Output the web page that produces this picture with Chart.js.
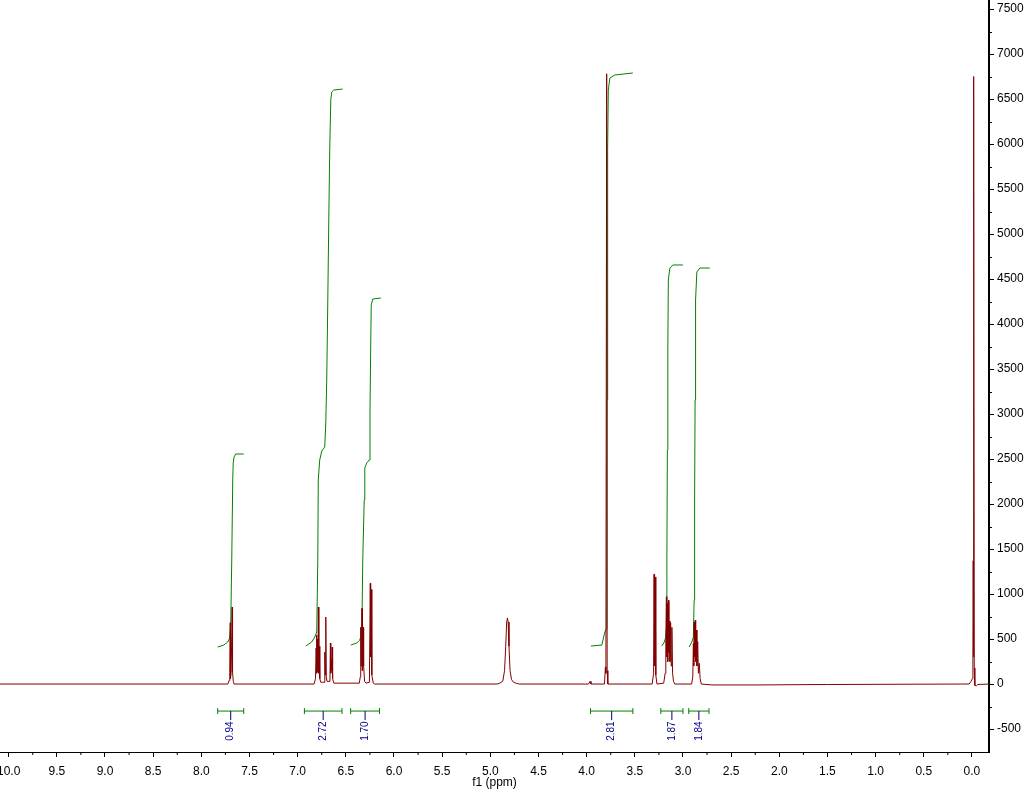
<!DOCTYPE html>
<html>
<head>
<meta charset="utf-8">
<title>1H NMR</title>
<script src="https://cdn.jsdelivr.net/npm/chart.js@4/dist/chart.umd.min.js"></script>
<style>
    html, body { margin: 0; padding: 0; background: #fff; }
    #wrap { width: 1026px; height: 790px; }
</style>
</head>
<body>
<div id="wrap"><canvas id="nmr_plot"></canvas></div>
<script>
'use strict';

// Axis limits (ppm runs right to left)
const ppmMin = -0.177;
const ppmMax = 10.09;
const intensityMin = -755;
const intensityMax = 7600;

// Tick values
const ppmTicks = [0, 0.5, 1, 1.5, 2, 2.5, 3, 3.5, 4, 4.5, 5, 5.5, 6, 6.5, 7, 7.5, 8, 8.5, 9, 9.5, 10];
const intensityTicks = [-500, 0, 500, 1000, 1500, 2000, 2500, 3000, 3500, 4000, 4500, 5000, 5500, 6000, 6500, 7000, 7500];

// Spectrum trace
const specPpm = [
    10.09, 7.725, 7.712, 7.705, 7.700, 7.697, 7.690, 7.680, 7.676, 7.668, 7.660,
    6.830, 6.815, 6.808, 6.804, 6.800, 6.795, 6.790, 6.785, 6.780, 6.775, 6.770, 6.760,
    6.725, 6.718, 6.714, 6.708, 6.703, 6.695,
    6.665, 6.660, 6.656, 6.650, 6.646, 6.642, 6.637, 6.625,
    6.360, 6.350, 6.345, 6.341, 6.336, 6.332, 6.328, 6.320, 6.315, 6.305, 6.290,
    6.255, 6.246, 6.242, 6.235, 6.230, 6.215, 6.200,
    4.930, 4.900, 4.870, 4.852, 4.840, 4.830, 4.822, 4.815, 4.806, 4.795, 4.780, 4.760, 4.730, 4.700,
    3.980, 3.965, 3.955, 3.815, 3.805, 3.800, 3.792, 3.787, 3.780,
    3.320, 3.305, 3.300, 3.295, 3.288, 3.282, 3.270,
    3.200, 3.185, 3.178, 3.172, 3.168, 3.163, 3.158, 3.150, 3.146, 3.140, 3.135, 3.128, 3.122, 3.115, 3.108, 3.098, 3.085,
    2.910, 2.898, 2.892, 2.888, 2.884, 2.879, 2.872, 2.868, 2.860, 2.855, 2.847, 2.840, 2.830, 2.822, 2.810,
    2.700, 2.200, 1.500, 0.100,
    0.030, 0.010, -0.005, -0.010, -0.013, -0.016, -0.020, -0.024, -0.030, -0.045, -0.060, -0.177
];
const specInt = [
    0, 0, 40, 130, 680, 60, 130, 855, 130, 30, 0,
    0, 60, 400, 545, 120, 500, 140, 855, 120, 420, 60, 20,
    20, 355, 100, 745, 80, 30,
    30, 455, 120, 270, 150, 410, 60, 10,
    10, 80, 630, 200, 560, 840, 150, 630, 200, 30, 10,
    20, 1120, 300, 1050, 100, 10, 0,
    0, 10, 35, 150, 420, 690, 733, 690, 420, 150, 50, 20, 8, 0,
    0, 30, 0, 0, 190, 120, 6780, 150, 0,
    0, 120, 1220, 200, 1190, 100, 0,
    10, 120, 500, 970, 300, 900, 250, 930, 350, 700, 250, 680, 200, 630, 120, 30, 0,
    0, 80, 450, 200, 690, 300, 710, 250, 600, 200, 470, 120, 230, 60, 0,
    -10, -10, -5, 0,
    0, 30, 60, 420, 1370, 300, 6750, 180, -15, -20, -5, 0
];

// Integral curves
const int770Ppm = [7.830, 7.767, 7.726, 7.705, 7.695, 7.684, 7.674, 7.669, 7.660, 7.643, 7.560];
const int770Val = [411, 433, 467, 511, 656, 1378, 2267, 2456, 2522, 2556, 2556];
const int680Ppm = [6.916, 6.854, 6.822, 6.802, 6.791, 6.786, 6.771, 6.750, 6.719, 6.708, 6.698, 6.687, 6.677, 6.667, 6.656, 6.646, 6.625, 6.532];
const int680Val = [422, 467, 522, 578, 1378, 2267, 2489, 2589, 2633, 2900, 3378, 4267, 5156, 5933, 6489, 6578, 6600, 6611];
const int630Ppm = [6.449, 6.386, 6.355, 6.334, 6.324, 6.309, 6.303, 6.283, 6.257, 6.249, 6.241, 6.236, 6.220, 6.137];
const int630Val = [433, 456, 489, 567, 1378, 2044, 2400, 2456, 2489, 3022, 3822, 4211, 4278, 4289];
const int381Ppm = [3.956, 3.842, 3.811, 3.790, 3.787, 3.782, 3.775, 3.759, 3.707, 3.520];
const int381Val = [422, 433, 578, 622, 3156, 5933, 6600, 6733, 6767, 6789];
const int318Ppm = [3.222, 3.198, 3.178, 3.172, 3.167, 3.162, 3.157, 3.152, 3.136, 3.105, 3.001];
const int318Val = [422, 456, 522, 622, 1378, 2600, 3711, 4489, 4622, 4656, 4656];
const int288Ppm = [2.936, 2.908, 2.892, 2.884, 2.879, 2.874, 2.869, 2.856, 2.825, 2.721];
const int288Val = [411, 467, 522, 933, 2044, 3156, 4267, 4578, 4622, 4622];

// Integration ranges and their values
const intFrom = [7.83, 6.93, 6.45, 3.96, 3.23, 2.94];
const intTo = [7.56, 6.54, 6.15, 3.52, 3.00, 2.73];
const intLabels = ['0.94', '2.72', '1.70', '2.81', '1.87', '1.84'];
const bracketLevel = -300; // intensity at which the range bars sit
const stemLevel = -400;    // end of the small stem under each bar
const labelLevel = -415;   // top of the rotated value text

const FONT = 'Liberation Sans, Arial, sans-serif';

/**
 * Zip two arrays into Chart.js {x, y} points.
 */
function toPoints(xs, ys) {
    return xs.map((x, i) => ({ x: x, y: ys[i] }));
}

/**
 * Draw integration ranges below the baseline, plus minor axis ticks.
 */
const nmrMarks = {
    id: 'nmrMarks',
    afterDatasetsDraw(chart) {
        const ctx = chart.ctx;
        const x = chart.scales.x;
        const y = chart.scales.y;
        const yBar = y.getPixelForValue(bracketLevel);
        ctx.save();
        intFrom.forEach((from, i) => {
            const x1 = x.getPixelForValue(from);
            const x2 = x.getPixelForValue(intTo[i]);
            const xc = x.getPixelForValue((from + intTo[i]) / 2);

            // green range bar with end caps
            ctx.strokeStyle = '#008000';
            ctx.lineWidth = 1;
            ctx.beginPath();
            ctx.moveTo(x1, yBar); ctx.lineTo(x2, yBar);
            ctx.moveTo(x1, yBar - 3); ctx.lineTo(x1, yBar + 3);
            ctx.moveTo(x2, yBar - 3); ctx.lineTo(x2, yBar + 3);
            ctx.stroke();

            // navy stem and rotated value
            ctx.strokeStyle = '#000080';
            ctx.beginPath();
            ctx.moveTo(xc, yBar); ctx.lineTo(xc, y.getPixelForValue(stemLevel));
            ctx.stroke();

            ctx.save();
            ctx.translate(xc, y.getPixelForValue(labelLevel));
            ctx.rotate(-Math.PI / 2);
            ctx.fillStyle = '#000080';
            ctx.font = '10px ' + FONT;
            ctx.textAlign = 'right';
            ctx.textBaseline = 'middle';
            ctx.fillText(intLabels[i], 0, 0);
            ctx.restore();
        });
        ctx.restore();
    },
    afterDraw(chart) {
        const ctx = chart.ctx;
        const x = chart.scales.x;
        const y = chart.scales.y;
        const area = chart.chartArea;
        ctx.save();
        ctx.strokeStyle = '#000';
        ctx.lineWidth = 1;
        ctx.beginPath();
        // minor ticks halfway between major ones
        for (let i = 0; i < ppmTicks.length - 1; i++) {
            const px = x.getPixelForValue((ppmTicks[i] + ppmTicks[i + 1]) / 2);
            ctx.moveTo(px, area.bottom); ctx.lineTo(px, area.bottom + 3);
        }
        for (let i = 0; i < intensityTicks.length - 1; i++) {
            const py = Math.round(y.getPixelForValue((intensityTicks[i] + intensityTicks[i + 1]) / 2)) + 0.5;
            ctx.moveTo(area.right, py); ctx.lineTo(area.right + 3, py);
        }
        ctx.stroke();
        ctx.restore();
    }
};

// Integral dataset factory
function integral(ppm, val) {
    return {
        data: toPoints(ppm, val),
        borderColor: '#008000',
        borderWidth: 1,
        pointRadius: 0,
        tension: 0,
        fill: false
    };
}

const tickFont = { family: FONT, size: 12 };

new Chart(document.getElementById('nmr_plot').getContext('2d'), {
    type: 'line',
    data: {
        datasets: [
            {
                data: toPoints(specPpm, specInt),
                borderColor: '#800000',
                borderWidth: 1,
                pointRadius: 0,
                tension: 0,
                fill: false
            },
            integral(int770Ppm, int770Val),
            integral(int680Ppm, int680Val),
            integral(int630Ppm, int630Val),
            integral(int381Ppm, int381Val),
            integral(int318Ppm, int318Val),
            integral(int288Ppm, int288Val)
        ]
    },
    options: {
        responsive: true,
        maintainAspectRatio: false,
        animation: false,
        devicePixelRatio: 1,
        layout: { padding: 0 },
        plugins: {
            legend: { display: false },
            tooltip: { enabled: false },
            title: { display: false }
        },
        scales: {
            x: {
                type: 'linear',
                reverse: true,
                min: ppmMin,
                max: ppmMax,
                afterBuildTicks(scale) {
                    scale.ticks = ppmTicks.map(v => ({ value: v }));
                },
                ticks: {
                    autoSkip: false,
                    maxRotation: 0,
                    padding: 7,
                    color: '#000',
                    font: tickFont,
                    callback: v => v.toFixed(1)
                },
                grid: { drawOnChartArea: false, drawTicks: true, tickLength: 5, tickColor: '#000' },
                border: { color: '#000', width: 1 },
                title: { display: true, text: 'f1 (ppm)', color: '#000', font: tickFont, padding: 0 },
                afterFit(scale) {
                    scale.height = 38;
                    scale.paddingLeft = 0;
                    scale.paddingRight = 0;
                }
            },
            y: {
                position: 'right',
                min: intensityMin,
                max: intensityMax,
                afterBuildTicks(scale) {
                    scale.ticks = intensityTicks.map(v => ({ value: v }));
                },
                ticks: {
                    autoSkip: false,
                    padding: 3,
                    color: '#000',
                    font: tickFont,
                    callback: v => String(v)
                },
                grid: { drawOnChartArea: false, drawTicks: true, tickLength: 5, tickColor: '#000' },
                border: { color: '#000', width: 2 },
                afterFit(scale) {
                    scale.width = 37;
                    scale.paddingTop = 0;
                    scale.paddingBottom = 0;
                }
            }
        }
    },
    plugins: [nmrMarks]
});
</script>
</body>
</html>
